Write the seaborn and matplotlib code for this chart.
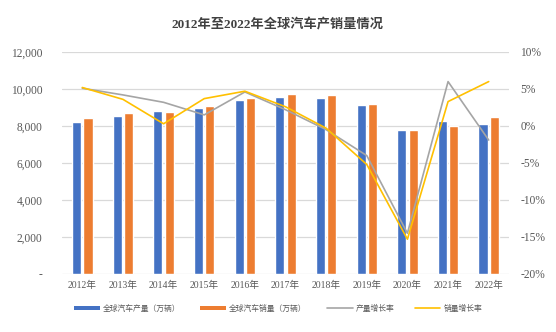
import numpy as np
import pandas as pd
import matplotlib
matplotlib.use("Agg")
import matplotlib.pyplot as plt
import seaborn as sns
from matplotlib.ticker import FuncFormatter, MultipleLocator
from matplotlib.patches import Patch
from matplotlib.lines import Line2D

years = ["2012年", "2013年", "2014年", "2015年", "2016年", "2017年",
         "2018年", "2019年", "2020年", "2021年", "2022年"]
production = [8216, 8557, 8827, 8951, 9384, 9568, 9492, 9114, 7800, 8270, 8108]
sales = [8411, 8719, 8735, 9059, 9492, 9730, 9676, 9189, 7762, 8016, 8503]
prod_growth = [5.1, 4.2, 3.2, 1.5, 4.6, 2.2, -0.5, -4.0, -14.5, 6.0, -1.9]
sales_growth = [5.2, 3.6, 0.3, 3.7, 4.7, 2.6, -0.3, -5.2, -15.3, 3.3, 6.0]

prod_label = "全球汽车产量（万辆）"
sales_label = "全球汽车销量（万辆）"
pg_label = "产量增长率"
sg_label = "销量增长率"

BLUE, ORANGE, GRAY, YELLOW = "#4472C4", "#ED7D31", "#A5A5A5", "#FFC000"
TXT = "#595959"
SERIF = ["Liberation Serif", "Noto Sans CJK SC"]
SANS = ["Noto Sans CJK SC", "DejaVu Sans"]

sns.set_theme(style="white")
plt.rcParams["font.family"] = SERIF

df = pd.DataFrame({
    "year": years * 2,
    "value": production + sales,
    "series": [prod_label] * len(years) + [sales_label] * len(years),
})

fig = plt.figure(figsize=(5.56, 3.32), dpi=100)
ax = fig.add_axes([0.1115, 0.1747, 0.804, 0.6687])

sns.barplot(data=df, x="year", y="value", hue="series", order=years,
            palette=[BLUE, ORANGE], width=0.56, gap=0.2, ax=ax,
            legend=False, errorbar=None, saturation=1)

ax.set_ylim(0, 12000)
ax.set_xlim(-0.5, len(years) - 0.5)
ax.yaxis.set_major_locator(MultipleLocator(2000))
ax.yaxis.set_major_formatter(FuncFormatter(lambda v, p: "-" if v == 0 else f"{int(v):,}"))
ax.grid(axis="y", color="#D9D9D9", linewidth=0.9)
ax.set_axisbelow(True)
for s in ax.spines.values():
    s.set_visible(False)
ax.set_xlabel("")
ax.set_ylabel("")
ax.tick_params(axis="y", labelsize=8.3, colors=TXT, length=0, pad=14)
ax.tick_params(axis="x", labelsize=7, colors=TXT, length=0, pad=5)

ax2 = ax.twinx()
xpos = np.arange(len(years))
sns.lineplot(x=xpos, y=prod_growth, color=GRAY, linewidth=1.2, ax=ax2)
sns.lineplot(x=xpos, y=sales_growth, color=YELLOW, linewidth=1.2, ax=ax2)
ax2.set_ylim(-20, 10)
ax2.yaxis.set_major_locator(MultipleLocator(5))
ax2.yaxis.set_major_formatter(FuncFormatter(lambda v, p: f"{int(round(v))}%"))
ax2.tick_params(axis="y", labelsize=8.3, colors=TXT, length=0, pad=8)
for s in ax2.spines.values():
    s.set_visible(False)
ax2.grid(False)
ax2.set_xlim(-0.5, len(years) - 0.5)

fig.text(0.5, 0.925, "2012年至2022年全球汽车产销量情况", ha="center", va="center",
         fontsize=9.5, fontweight="bold", color="#404040", family=SERIF)

handles = [
    Patch(facecolor=BLUE, edgecolor="none"),
    Patch(facecolor=ORANGE, edgecolor="none"),
    Line2D([], [], color=GRAY, linewidth=1.2),
    Line2D([], [], color=YELLOW, linewidth=1.2),
]
leg = fig.legend(handles, [prod_label, sales_label, pg_label, sg_label],
                 loc="center", bbox_to_anchor=(0.5, 0.07), ncol=4, frameon=False,
                 prop={"family": SANS, "size": 5.6}, handlelength=3.3,
                 handleheight=0.35, columnspacing=2.6, handletextpad=0.4)
for t in leg.get_texts():
    t.set_color(TXT)

fig.savefig("out.png", dpi=100)
